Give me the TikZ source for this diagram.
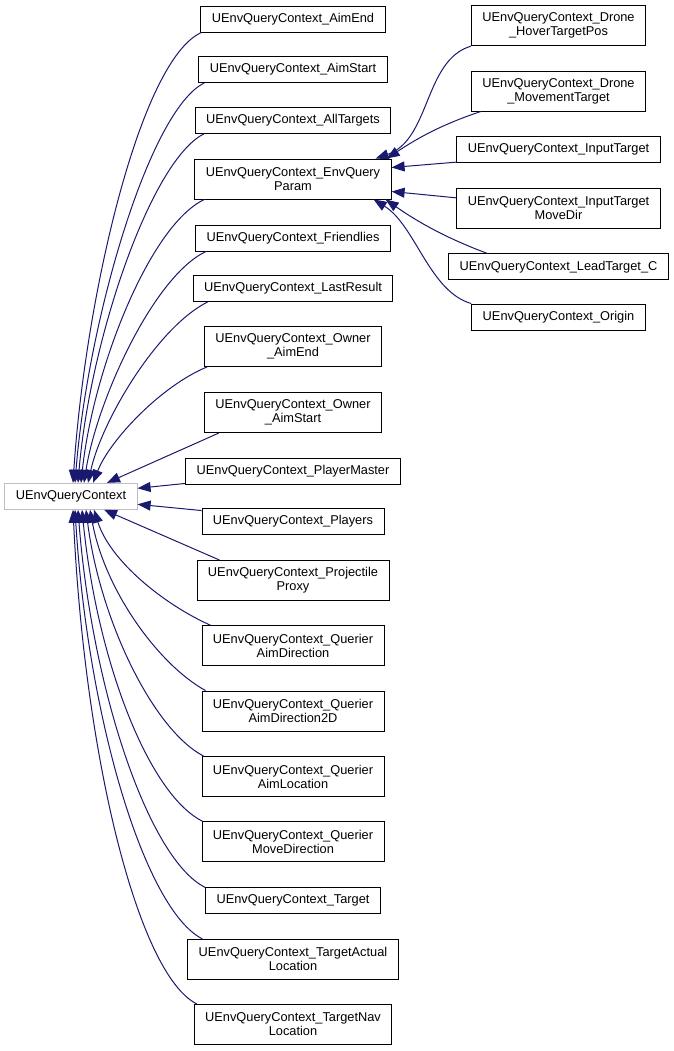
\documentclass[tikz,border=0pt]{standalone}
\usepackage{fontspec}
\setmainfont{Liberation Sans}
\usetikzlibrary{arrows.meta}
\definecolor{edgeblue}{HTML}{191970}
\definecolor{focusgrey}{HTML}{BFBFBF}
\begin{document}
\begin{tikzpicture}[
  x=1pt, y=-1pt,
  >={Triangle[length=13pt,width=10pt]},
  cls/.style={draw=black,line width=0.9pt,fill=white,inner xsep=11pt,inner ysep=2pt,
    minimum height=26pt,align=center,font=\fontsize{12.8}{14}\selectfont},
  cls2/.style={cls,minimum height=40pt},
  focus/.style={cls,draw=focusgrey},
  edge/.style={->,draw=edgeblue,line width=1pt}
]
  \fill[white] (0,0) rectangle (673,1051);
  \useasboundingbox (0,0) rectangle (673,1051);

  % base class
  \node[focus] (base) at (71,496.3) {UEnvQueryContext};

  % direct subclasses
  \node[cls]  (aimend)       at (293,19)    {UEnvQueryContext\_AimEnd};
  \node[cls]  (aimstart)     at (293,69.5)  {UEnvQueryContext\_AimStart};
  \node[cls]  (alltargets)   at (293,120.5) {UEnvQueryContext\_AllTargets};
  \node[cls2] (envparam)     at (293,179)   {UEnvQueryContext\_EnvQuery\\Param};
  \node[cls]  (friendlies)   at (293,238)   {UEnvQueryContext\_Friendlies};
  \node[cls]  (lastresult)   at (293,288.5) {UEnvQueryContext\_LastResult};
  \node[cls2] (owneraimend)  at (293,346.5) {UEnvQueryContext\_Owner\\\_AimEnd};
  \node[cls2] (owneraimstart) at (293,412.5) {UEnvQueryContext\_Owner\\\_AimStart};
  \node[cls]  (playermaster) at (293,471)   {UEnvQueryContext\_PlayerMaster};
  \node[cls]  (players)      at (293,521)   {UEnvQueryContext\_Players};
  \node[cls2] (projproxy)    at (293,580.5) {UEnvQueryContext\_Projectile\\Proxy};
  \node[cls2] (qaimdir)      at (293,645.7) {UEnvQueryContext\_Querier\\AimDirection};
  \node[cls2] (qaimdirtwod)  at (293,711)   {UEnvQueryContext\_Querier\\AimDirection2D};
  \node[cls2] (qaimloc)      at (293,776.5) {UEnvQueryContext\_Querier\\AimLocation};
  \node[cls2] (qmovedir)     at (293,841.7) {UEnvQueryContext\_Querier\\MoveDirection};
  \node[cls]  (target)       at (293,900.8) {UEnvQueryContext\_Target};
  \node[cls2] (targetactual) at (293,959.3) {UEnvQueryContext\_TargetActual\\Location};
  \node[cls2] (targetnav)    at (293,1024.3) {UEnvQueryContext\_TargetNav\\Location};

  % subclasses of EnvQuery Param
  \node[cls2] (hoverpos)     at (558.5,25.7)  {UEnvQueryContext\_Drone\\\_HoverTargetPos};
  \node[cls2] (movetarget)   at (558.5,91)    {UEnvQueryContext\_Drone\\\_MovementTarget};
  \node[cls]  (inputtarget)  at (558.5,149.7) {UEnvQueryContext\_InputTarget};
  \node[cls2] (inputmovedir) at (558.5,208.3) {UEnvQueryContext\_InputTarget\\MoveDir};
  \node[cls]  (leadtarget)   at (558.5,266.8) {UEnvQueryContext\_LeadTarget\_C};
  \node[cls]  (origin)       at (558.5,317)   {UEnvQueryContext\_Origin};

  % edges into the base, upper side
  \draw[edge] ([xshift=1pt]aimend.south west) .. controls +(-62,28) and +(12,-183) .. ([xshift=2pt]base.north);
  \draw[edge] ([xshift=6pt]aimstart.south west) .. controls +(-55,27) and +(13,-163) .. ([xshift=4pt]base.north);
  \draw[edge] ([xshift=9pt]alltargets.south west) .. controls +(-53,27) and +(12,-143) .. ([xshift=7pt]base.north);
  \draw[edge] ([xshift=10pt]envparam.south west) .. controls +(-55,26) and +(12,-113) .. ([xshift=10pt]base.north);
  \draw[edge] ([xshift=11pt]friendlies.south west) .. controls +(-52,24) and +(13,-83) .. ([xshift=13pt]base.north);
  \draw[edge] ([xshift=15pt]lastresult.south west) .. controls +(-50,25) and +(14,-63) .. ([xshift=17pt]base.north);
  \draw[edge] ([xshift=3pt]owneraimend.south west) .. controls +(-46,19) and +(17,-43) .. ([xshift=22pt]base.north);
  \draw[edge] ([xshift=15pt]owneraimstart.south west) -- ([xshift=36pt]base.north);
  \draw[edge] ([yshift=1pt]playermaster.south west) -- ([yshift=8pt]base.east);
  \draw[edge] ([yshift=-3pt]players.north west) -- ([yshift=-8pt]base.east);

  % edges into the base, lower side
  \draw[edge] ([xshift=23pt]projproxy.north west) -- ([xshift=33pt]base.south);
  \draw[edge] ([xshift=9pt]qaimdir.north west) .. controls +(-47,-21) and +(16,51) .. ([xshift=23pt]base.south);
  \draw[edge] ([xshift=4pt]qaimdirtwod.north west) .. controls +(-47,-26) and +(15,81) .. ([xshift=19pt]base.south);
  \draw[edge] ([xshift=2pt]qaimloc.north west) .. controls +(-50,-26) and +(14,111) .. ([xshift=15pt]base.south);
  \draw[edge] ([xshift=1pt]qmovedir.north west) .. controls +(-54,-27) and +(15,151) .. ([xshift=11pt]base.south);
  \draw[edge] (target.north west) .. controls +(-56,-28) and +(14,181) .. ([xshift=7pt]base.south);
  \draw[edge] ([xshift=15pt]targetactual.north west) .. controls +(-57,-29) and +(13,211) .. ([xshift=4pt]base.south);
  \draw[edge] ([xshift=3pt]targetnav.north west) .. controls +(-58,-29) and +(12,251) .. ([xshift=2pt]base.south);

  % edges into EnvQuery Param
  \draw[edge] (hoverpos.south west) .. controls +(-47,14) and +(55,-19) .. ([xshift=-16pt]envparam.north east);
  \draw[edge] ([xshift=10pt]movetarget.south west) .. controls +(-42,14) and +(29,-19) .. ([xshift=-5pt]envparam.north east);
  \draw[edge] ([yshift=1pt]inputtarget.south west) -- ([yshift=11.5pt]envparam.east);
  \draw[edge] ([yshift=-10pt]inputmovedir.north west) -- ([yshift=-12.5pt]envparam.east);
  \draw[edge] ([xshift=39pt]leadtarget.north west) .. controls +(-43,-16) and +(30,21) .. ([xshift=-6pt]envparam.south east);
  \draw[edge] (origin.north west) .. controls +(-42,-12) and +(42,26) .. ([xshift=-18pt]envparam.south east);
\end{tikzpicture}
\end{document}
